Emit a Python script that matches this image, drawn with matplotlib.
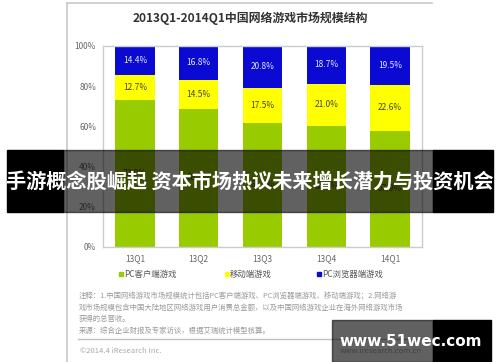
import matplotlib.pyplot as plt
from matplotlib.lines import Line2D
from matplotlib.patches import Rectangle

plt.rcParams['font.family'] = ['Noto Sans CJK SC', 'DejaVu Sans']

quarters = ['13Q1', '13Q2', '13Q3', '13Q4', '14Q1']
pc_client = [72.9, 68.7, 61.7, 60.3, 57.9]
mobile = [12.7, 14.5, 17.5, 21.0, 22.6]
pc_browser = [14.4, 16.8, 20.8, 18.7, 19.5]
series_names = ['PC客户端游戏', '移动端游戏', 'PC浏览器端游戏']
yticks = [0, 20, 40, 60, 80, 100]

W, H = 500, 362
fig = plt.figure(figsize=(5, 3.62), dpi=100)


def fx(px):
    return px / W


def fy(py):
    return 1 - py / H


# outer frame of the screenshot
fig.add_artist(Line2D([fx(67), fx(432)], [fy(3), fy(3)], color='#c8c8c8', lw=1.2))
fig.add_artist(Line2D([fx(67), fx(67)], [fy(3), fy(362)], color='#c8c8c8', lw=1.2))

fig.text(fx(250), fy(18), '2013Q1-2014Q1中国网络游戏市场规模结构', ha='center', va='center',
         fontsize=8.6, fontweight='bold', color='#333333')

ax = fig.add_axes([fx(103), fy(247), fx(422) - fx(103), fy(46) - fy(247)])
x = range(len(quarters))
w = 0.62
green, yellow, blue = '#99cc00', '#ffff00', '#0a0ad2'
ax.bar(x, pc_client, w, color=green)
bottom2 = pc_client
ax.bar(x, mobile, w, bottom=bottom2, color=yellow)
bottom3 = [a + b for a, b in zip(pc_client, mobile)]
ax.bar(x, pc_browser, w, bottom=bottom3, color=blue)

for i in x:
    ax.text(i, pc_client[i] / 2, f'{pc_client[i]:.1f}%', ha='center', va='center',
            fontsize=6, color='#444444')
    ax.text(i, bottom2[i] + mobile[i] / 2, f'{mobile[i]:.1f}%', ha='center', va='center',
            fontsize=6, color='#444444')
    ax.text(i, bottom3[i] + pc_browser[i] / 2, f'{pc_browser[i]:.1f}%', ha='center',
            va='center', fontsize=6, color='#e8e8ff')

ax.set_xlim(-0.5, 4.5)
ax.set_ylim(0, 100)
ax.set_yticks(yticks)
ax.set_yticklabels([f'{t}%' for t in yticks])
ax.set_xticks(list(x))
ax.set_xticklabels(quarters)
ax.tick_params(length=0, labelsize=6, colors='#666666', pad=5)
for s in ax.spines.values():
    s.set_color('#cccccc')
    s.set_linewidth(1)

# legend row
leg_x = [121, 227, 319]
leg_c = [green, yellow, blue]
for lx, lc, name in zip(leg_x, leg_c, series_names):
    fig.add_artist(Rectangle((fx(lx - 2), fy(276)), fx(4), fy(272) - fy(276), color=lc))
    fig.text(fx(lx + 3), fy(274), name, ha='left', va='center', fontsize=6, color='#555555')

notes = [
    '注释：1.中国网络游戏市场规模统计包括PC客户端游戏、PC浏览器端游戏、移动端游戏；2.网络游',
    '戏市场规模包含中国大陆地区网络游戏用户消费总金额，以及中国网络游戏企业在海外网络游戏市场',
    '获得的总营收。',
    '来源：综合企业财报及专家访谈，根据艾瑞统计模型核算。',
]
for k, line in enumerate(notes):
    fig.text(fx(79), fy(296 + k * 11.5), line, ha='left', va='center', fontsize=5.3,
             color='#9a9a9a')

fig.add_artist(Line2D([fx(78), fx(425)], [fy(339), fy(339)], color='#c0c0c0', lw=1))
fig.text(fx(80), fy(351), '©2014.4 iResearch Inc.', ha='left', va='center', fontsize=5.5,
         color='#aaaaaa')
fig.text(fx(422), fy(351), 'www.iresearch.com.cn', ha='right', va='center', fontsize=5.5,
         color='#aaaaaa')

# headline banner over the picture
fig.add_artist(Rectangle((fx(7), fy(212)), fx(63 - 7), fy(150) - fy(212), color='black', zorder=10))
fig.add_artist(Rectangle((fx(433), fy(212)), fx(493 - 433), fy(150) - fy(212), color='black', zorder=10))
fig.add_artist(Rectangle((fx(63), fy(212)), fx(433 - 63), fy(150) - fy(212), color='black',
                         alpha=0.62, zorder=10))
fig.text(fx(250), fy(181), '手游概念股崛起 资本市场热议未来增长潜力与投资机会', ha='center',
         va='center', fontsize=14.5, fontweight='bold', color='white', zorder=11)

# watermark box
fig.add_artist(Rectangle((fx(332), 0), fx(433 - 332), fy(320), color='black', alpha=0.62, zorder=10))
fig.add_artist(Rectangle((fx(433), 0), fx(491 - 433), fy(320), color='black', zorder=10))
fig.text(fx(411), fy(342), 'www.51wec.com', ha='center', va='center', fontsize=11,
         fontweight='bold', color='white', family='DejaVu Sans', zorder=11)

fig.savefig('out.png', dpi=100)
